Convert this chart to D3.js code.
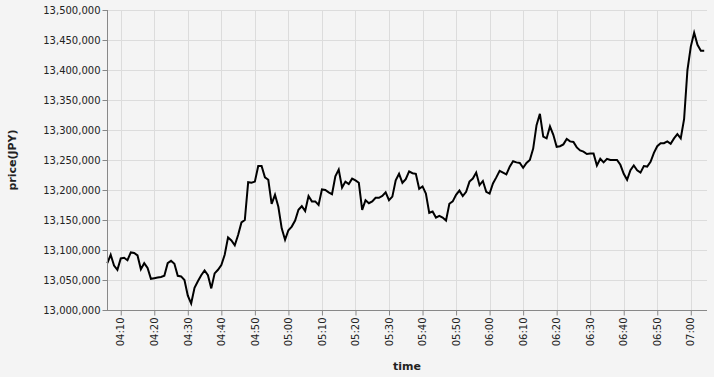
<!DOCTYPE html>
<html>
<head>
<meta charset="utf-8">
<script src="https://cdn.jsdelivr.net/npm/d3@7"></script>
<style>
  html, body { margin: 0; padding: 0; background: #f4f4f4; }
  svg { display: block; font-family: "DejaVu Sans", sans-serif; }
</style>
</head>
<body>
<svg id="chart" width="714" height="377"></svg>
<script>
const times = [
"04:06","04:07","04:08","04:09","04:10","04:11","04:12","04:13","04:14","04:15",
"04:16","04:17","04:18","04:19","04:20","04:21","04:22","04:23","04:24","04:25",
"04:26","04:27","04:28","04:29","04:30","04:31","04:32","04:33","04:34","04:35",
"04:36","04:37","04:38","04:39","04:40","04:41","04:42","04:43","04:44","04:45",
"04:46","04:47","04:48","04:49","04:50","04:51","04:52","04:53","04:54","04:55",
"04:56","04:57","04:58","04:59","05:00","05:01","05:02","05:03","05:04","05:05",
"05:06","05:07","05:08","05:09","05:10","05:11","05:12","05:13","05:14","05:15",
"05:16","05:17","05:18","05:19","05:20","05:21","05:22","05:23","05:24","05:25",
"05:26","05:27","05:28","05:29","05:30","05:31","05:32","05:33","05:34","05:35",
"05:36","05:37","05:38","05:39","05:40","05:41","05:42","05:43","05:44","05:45",
"05:46","05:47","05:48","05:49","05:50","05:51","05:52","05:53","05:54","05:55",
"05:56","05:57","05:58","05:59","06:00","06:01","06:02","06:03","06:04","06:05",
"06:06","06:07","06:08","06:09","06:10","06:11","06:12","06:13","06:14","06:15",
"06:16","06:17","06:18","06:19","06:20","06:21","06:22","06:23","06:24","06:25",
"06:26","06:27","06:28","06:29","06:30","06:31","06:32","06:33","06:34","06:35",
"06:36","06:37","06:38","06:39","06:40","06:41","06:42","06:43","06:44","06:45",
"06:46","06:47","06:48","06:49","06:50","06:51","06:52","06:53","06:54","06:55",
"06:56","06:57","06:58","06:59","07:00","07:01","07:02","07:03","07:04"
];

const prices = [
13078000,13092000,13074000,13067000,13086000,13087000,13083000,13096000,13095000,13091000,
13068000,13078000,13070000,13052000,13053000,13054000,13055000,13057000,13078000,13082000,
13077000,13057000,13056000,13050000,13024000,13011000,13037000,13048000,13058000,13066000,
13058000,13036000,13061000,13067000,13075000,13092000,13121000,13116000,13108000,13125000,
13146000,13150000,13213000,13212000,13214000,13240000,13240000,13221000,13217000,13177000,
13192000,13172000,13136000,13117000,13133000,13139000,13149000,13167000,13173000,13165000,
13190000,13181000,13181000,13175000,13201000,13200000,13196000,13193000,13223000,13234000,
13204000,13214000,13210000,13219000,13216000,13212000,13167000,13183000,13178000,13181000,
13187000,13187000,13190000,13196000,13183000,13189000,13216000,13227000,13212000,13218000,
13231000,13228000,13227000,13202000,13206000,13194000,13162000,13164000,13154000,13157000,
13154000,13149000,13177000,13181000,13192000,13199000,13190000,13197000,13214000,13219000,
13229000,13208000,13215000,13197000,13194000,13211000,13221000,13232000,13229000,13226000,
13239000,13248000,13246000,13245000,13237000,13245000,13250000,13269000,13308000,13327000,
13289000,13286000,13306000,13292000,13272000,13273000,13276000,13285000,13281000,13280000,
13271000,13266000,13264000,13260000,13261000,13261000,13241000,13252000,13246000,13252000,
13250000,13250000,13250000,13242000,13227000,13217000,13233000,13241000,13233000,13229000,
13240000,13239000,13247000,13262000,13273000,13278000,13278000,13281000,13277000,13286000,
13293000,13286000,13318000,13400000,13439000,13462000,13442000,13432000,13432000
];

const yTicks = [13000000,13050000,13100000,13150000,13200000,13250000,13300000,13350000,13400000,13450000,13500000];
const xTickLabels = ["04:10","04:20","04:30","04:40","04:50","05:00","05:10","05:20","05:30","05:40","05:50",
                     "06:00","06:10","06:20","06:30","06:40","06:50","07:00"];

const parseT = d3.timeParse("%H:%M");
const data = times.map((t, i) => ({ t: parseT(t), v: prices[i] }));

const margin = { left: 107, top: 10, width: 600, height: 300 };
const svg = d3.select("#chart");
svg.append("rect").attr("width", 714).attr("height", 377).attr("fill", "#f4f4f4");

const g = svg.append("g").attr("transform", `translate(${margin.left},${margin.top})`);

const x = d3.scaleTime()
  .domain([d3.timeSecond.offset(data[0].t, -6), d3.timeSecond.offset(data[data.length - 1].t, 50)])
  .range([0, margin.width]);
const y = d3.scaleLinear().domain([13000000, 13500000]).range([margin.height, 0]);

const xTickDates = xTickLabels.map(parseT);

// grid
g.append("g").selectAll("line.gy").data(yTicks).join("line")
  .attr("x1", 0).attr("x2", margin.width)
  .attr("y1", d => Math.round(y(d)) + 0.5).attr("y2", d => Math.round(y(d)) + 0.5)
  .attr("stroke", "#dcdcdc").attr("stroke-width", 1);
g.append("g").selectAll("line.gx").data(xTickDates).join("line")
  .attr("x1", d => Math.round(x(d)) + 0.5).attr("x2", d => Math.round(x(d)) + 0.5)
  .attr("y1", 0).attr("y2", margin.height)
  .attr("stroke", "#dcdcdc").attr("stroke-width", 1);

// line
const line = d3.line().x(d => x(d.t)).y(d => y(d.v));
g.append("path").datum(data)
  .attr("d", line).attr("fill", "none")
  .attr("stroke", "#000").attr("stroke-width", 2).attr("stroke-linejoin", "miter");

// y axis
const fmt = d3.format(",");
const yAxis = g.append("g").attr("transform", "translate(0.5,0)")
  .call(d3.axisLeft(y).tickValues(yTicks).tickFormat(fmt).tickSize(5).tickPadding(2));
yAxis.select(".domain").attr("stroke", "#888").attr("d", `M0,0V${margin.height}`);
yAxis.selectAll(".tick line").attr("stroke", "#888");
yAxis.selectAll(".tick text").attr("fill", "#222").attr("font-size", 10)
  .attr("font-family", "DejaVu Sans, sans-serif");

// x axis
const xAxis = g.append("g").attr("transform", `translate(0,${margin.height + 0.5})`)
  .call(d3.axisBottom(x).tickValues(xTickDates).tickFormat(d3.timeFormat("%H:%M")).tickSize(5).tickPadding(2));
xAxis.select(".domain").attr("stroke", "#888").attr("d", `M0,0H${margin.width}`);
xAxis.selectAll(".tick line").attr("stroke", "#888");
xAxis.selectAll(".tick text")
  .attr("fill", "#222").attr("font-size", 10).attr("font-family", "DejaVu Sans, sans-serif")
  .attr("transform", "rotate(-90)")
  .attr("text-anchor", "end")
  .attr("x", -7).attr("y", 0).attr("dy", "0.32em");

// titles
svg.append("text").attr("x", margin.left + margin.width / 2).attr("y", 370)
  .attr("text-anchor", "middle").attr("font-size", 11).attr("font-weight", "bold")
  .attr("fill", "#222").text("time");
svg.append("text").attr("transform", `translate(16,${margin.top + margin.height / 2}) rotate(-90)`)
  .attr("text-anchor", "middle").attr("font-size", 11).attr("font-weight", "bold")
  .attr("fill", "#222").text("price(JPY)");
</script>
</body>
</html>
